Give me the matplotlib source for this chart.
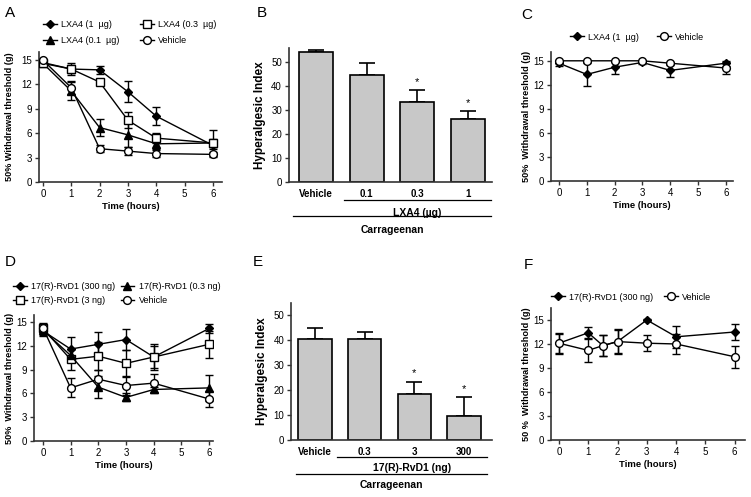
import matplotlib
matplotlib.use("Agg")
import matplotlib.pyplot as plt
import numpy as np

plt.rcParams['font.family'] = ['Liberation Sans', 'DejaVu Sans']
plt.rcParams['font.size'] = 7

# ---------------- data ----------------
t = [0, 1, 2, 3, 4, 6]
time_ticks = [0, 1, 2, 3, 4, 5, 6]

# Panel A
a_lxa4_1 = [14.7, 13.9, 13.8, 11.1, 8.1, 4.5]
a_lxa4_1_err = [0.2, 0.7, 0.5, 1.3, 1.1, 0.4]
a_lxa4_03 = [14.6, 13.9, 12.3, 7.6, 5.4, 4.8]
a_lxa4_03_err = [0.2, 0.5, 0.3, 1.0, 0.6, 1.6]
a_lxa4_01 = [14.6, 11.2, 6.7, 5.8, 4.7, 4.8]
a_lxa4_01_err = [0.2, 1.1, 1.0, 1.5, 0.6, 0.5]
a_vehicle = [15.0, 11.6, 4.1, 3.8, 3.5, 3.4]
a_vehicle_err = [0.1, 0.8, 0.4, 0.5, 0.4, 0.3]

# Panel B
b_categories = ['Vehicle', '0.1', '0.3', '1']
b_values = [54.3, 44.7, 33.6, 26.5]
b_err = [1.0, 5.0, 4.7, 3.0]
b_sig = [False, False, True, True]

# Panel C
c_lxa4_1 = [14.7, 13.3, 14.2, 14.8, 13.8, 14.7]
c_lxa4_1_err = [0.3, 1.4, 0.8, 0.2, 0.8, 0.3]
c_vehicle = [15.0, 15.0, 15.0, 15.0, 14.7, 14.1]
c_vehicle_err = [0.1, 0.1, 0.1, 0.1, 0.2, 0.8]

# Panel D
d_rvd1_300 = [13.9, 11.6, 12.2, 12.8, 10.6, 14.2]
d_rvd1_300_err = [0.7, 1.5, 1.5, 1.3, 1.7, 0.6]
d_rvd1_3 = [14.2, 10.3, 10.7, 9.8, 10.6, 12.2]
d_rvd1_3_err = [0.6, 1.3, 1.8, 1.7, 1.4, 1.7]
d_rvd1_03 = [14.0, 10.8, 6.8, 5.5, 6.5, 6.7]
d_rvd1_03_err = [0.6, 0.8, 1.4, 0.5, 0.3, 1.6]
d_vehicle = [14.3, 6.7, 7.8, 7.0, 7.3, 5.3]
d_vehicle_err = [0.6, 1.2, 1.2, 1.2, 1.2, 1.0]

# Panel E
e_categories = ['Vehicle', '0.3', '3', '300']
e_values = [40.5, 40.5, 18.5, 9.7]
e_err = [4.3, 3.0, 4.7, 7.4]
e_sig = [False, False, True, True]

# Panel F
tf = [0, 1, 1.5, 2, 3, 4, 6]
f_rvd1_300 = [12.1, 13.4, 11.8, 12.3, 15.0, 12.9, 13.5]
f_rvd1_300_err = [1.3, 0.7, 1.3, 1.4, 0.1, 1.4, 1.0]
f_vehicle = [12.1, 11.2, 11.8, 12.3, 12.1, 12.0, 10.4]
f_vehicle_err = [1.2, 1.4, 1.3, 1.6, 1.0, 1.2, 1.4]

threshold_ticks = [0, 3, 6, 9, 12, 15]
index_ticks = [0, 10, 20, 30, 40, 50]

# ---------------- styles ----------------
SPINE = '#333333'
STY = {
    'diamond': dict(marker='D', ms=4.0, mfc='black', mec='black'),
    'square': dict(marker='s', ms=5.2, mfc='white', mec='black', mew=1.0),
    'triangle': dict(marker='^', ms=5.3, mfc='black', mec='black'),
    'circle': dict(marker='o', ms=5.6, mfc='white', mec='black', mew=1.0),
}
W, H = 751, 497
fig = plt.figure(figsize=(W / 100, H / 100), dpi=100)


def style_axes(ax):
    for s in ['top', 'right']:
        ax.spines[s].set_visible(False)
    for s in ['left', 'bottom']:
        ax.spines[s].set_color(SPINE)
        ax.spines[s].set_linewidth(1.2)
    ax.tick_params(direction='out', length=3, width=1, color=SPINE,
                   labelsize=7, pad=2)


def line_panel(rect, xs, series, xlim, ylim, ylabel, leg_xy, colspace,
               labelspacing, ylabelpad):
    ax = fig.add_axes(rect)
    handles = []
    for y, err, key, label in series:
        eb = ax.errorbar(xs, y, yerr=err, color='black', lw=1.0,
                         elinewidth=1.0, capsize=3, capthick=1.0,
                         label=label, zorder=3, **STY[key])
        handles.append(eb[0])
    ax.set_xlim(*xlim)
    ax.set_ylim(*ylim)
    ax.set_xticks(time_ticks)
    ax.set_yticks(threshold_ticks)
    ax.set_xlabel('Time (hours)', fontsize=6.8, fontweight='bold',
                  labelpad=2)
    ax.set_ylabel(ylabel, fontsize=6.6, fontweight='bold',
                  labelpad=ylabelpad)
    style_axes(ax)
    ax.legend(handles=handles, labels=[s[3] for s in series],
              frameon=False, fontsize=6.5, handlelength=1.5,
              handletextpad=0.5, borderaxespad=0, borderpad=0,
              labelspacing=labelspacing, ncol=2, columnspacing=colspace,
              loc='center left',
              bbox_to_anchor=(leg_xy[0] / W, 1 - leg_xy[1] / H),
              bbox_transform=fig.transFigure)
    return ax


def bar_panel(rect, cats, vals, errs, sig, xlim, ylim, group_label,
              group_line, carr_line, ys):
    ax = fig.add_axes(rect)
    x = np.arange(len(cats))
    ax.bar(x, vals, width=0.67, color='#c8c8c8', edgecolor='black',
           linewidth=1.2, zorder=2)
    ax.errorbar(x, vals, yerr=[np.zeros(len(vals)), errs], fmt='none',
                ecolor='black', elinewidth=1.2, capsize=6, capthick=1.2,
                zorder=1)
    for xi, v, e, s in zip(x, vals, errs, sig):
        if s:
            ax.text(xi, v + e + 1.5, '*', ha='center', va='bottom',
                    fontsize=8)
    ax.set_xlim(*xlim)
    ax.set_ylim(*ylim)
    ax.set_yticks(index_ticks)
    ax.set_xticks(x)
    ax.set_xticklabels(cats, fontweight='bold', fontsize=7.5)
    ax.set_ylabel('Hyperalgesic Index', fontsize=8.5, fontweight='bold',
                  labelpad=4)
    style_axes(ax)
    ax.tick_params(axis='x', length=0, pad=5)
    tr = ax.get_xaxis_transform()
    ly, ty, cy, cty = ys
    ax.plot(group_line, [ly, ly], color='black', lw=0.9, transform=tr,
            clip_on=False)
    ax.text(np.mean(group_line), ty, group_label, transform=tr, ha='center',
            va='center', fontsize=7.5, fontweight='bold')
    ax.plot(carr_line, [cy, cy], color='black', lw=0.9, transform=tr,
            clip_on=False)
    ax.text(np.mean(carr_line), cty, 'Carrageenan', transform=tr,
            ha='center', va='center', fontsize=7.5, fontweight='bold')
    return ax


# Panel A
line_panel([0.0519, 0.6338, 0.2437, 0.2616], t,
           [(a_lxa4_1, a_lxa4_1_err, 'diamond', 'LXA4 (1  µg)'),
            (a_lxa4_01, a_lxa4_01_err, 'triangle', 'LXA4 (0.1  µg)'),
            (a_lxa4_03, a_lxa4_03_err, 'square', 'LXA4 (0.3  µg)'),
            (a_vehicle, a_vehicle_err, 'circle', 'Vehicle')],
           (-0.14, 6.32), (0, 16), '50% Withdrawal threshold (g)',
           (43, 32.5), 2.3, 0.75, 5)

# Panel B
bar_panel([0.3848, 0.6338, 0.2703, 0.2696], b_categories, b_values, b_err,
          b_sig, (-0.53, 3.47), (0, 56), 'LXA4 (µg)', [0.55, 3.45],
          [-0.45, 3.45], (-0.134, -0.228, -0.254, -0.36))

# Panel C
line_panel([0.7337, 0.6358, 0.2423, 0.2596], t,
           [(c_lxa4_1, c_lxa4_1_err, 'diamond', 'LXA4 (1  µg)'),
            (c_vehicle, c_vehicle_err, 'circle', 'Vehicle')],
           (-0.29, 6.26), (0, 16.1), '50%  Withdrawal threshold (g)',
           (570, 37), 2.0, 0.6, 2)

# Panel D
line_panel([0.0453, 0.1127, 0.2383, 0.2535], t,
           [(d_rvd1_300, d_rvd1_300_err, 'diamond', '17(R)-RvD1 (300 ng)'),
            (d_rvd1_3, d_rvd1_3_err, 'square', '17(R)-RvD1 (3 ng)'),
            (d_rvd1_03, d_rvd1_03_err, 'triangle', '17(R)-RvD1 (0.3 ng)'),
            (d_vehicle, d_vehicle_err, 'circle', 'Vehicle')],
           (-0.32, 6.14), (0, 15.9), '50%  Withdrawal threshold (g)',
           (13, 293.5), 0.6, 0.5, 1.5)

# Panel E
bar_panel([0.3875, 0.1147, 0.2676, 0.2757], e_categories, e_values, e_err,
          e_sig, (-0.48, 3.56), (0, 55), '17(R)-RvD1 (ng)', [0.44, 3.46],
          [-0.38, 3.46], (-0.124, -0.207, -0.248, -0.33))

# Panel F
line_panel([0.7337, 0.1147, 0.2583, 0.2656], tf,
           [(f_rvd1_300, f_rvd1_300_err, 'diamond', '17(R)-RvD1 (300 ng)'),
            (f_vehicle, f_vehicle_err, 'circle', 'Vehicle')],
           (-0.27, 6.35), (0, 16.5), '50 %  Withdrawal threshold (g)',
           (551, 297), 1.2, 0.5, 2)

# Panel letters
for letter, (px, py) in {'A': (10, 13), 'B': (262, 13), 'C': (527, 15),
                         'D': (10, 262), 'E': (258, 262),
                         'F': (528, 265)}.items():
    fig.text(px / W, 1 - py / H, letter, fontsize=11, ha='center',
             va='center')

fig.savefig('out.png', dpi=100)
